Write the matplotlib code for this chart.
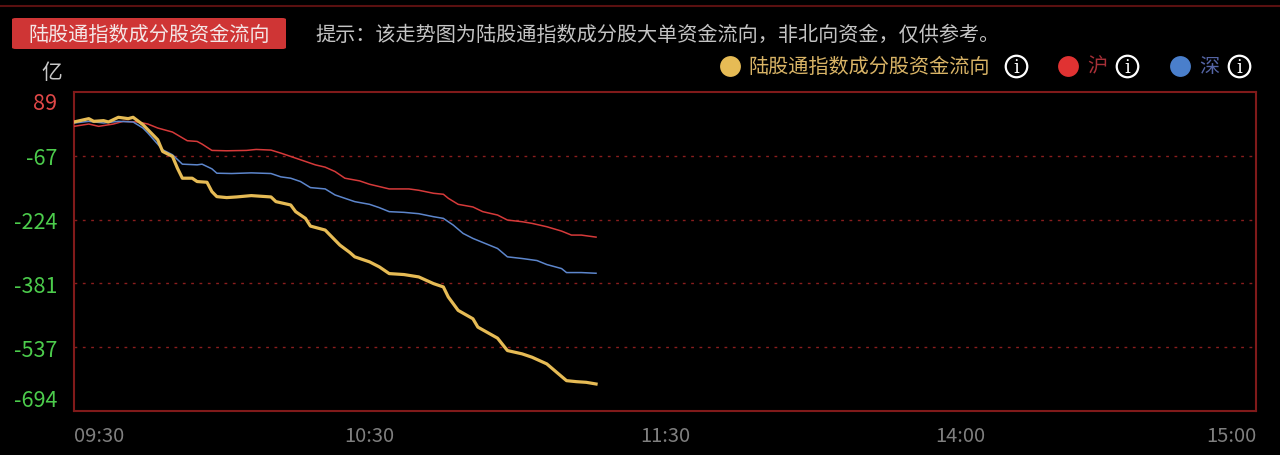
import matplotlib
matplotlib.use("Agg")
import matplotlib.pyplot as plt
from matplotlib.lines import Line2D
from matplotlib.patches import FancyBboxPatch

plt.rcParams['font.family'] = ['Noto Sans CJK SC', 'DejaVu Sans']

# minutes after 09:30 (trading minutes, 11:30 and 13:00 share 120)
total_min = [0, 3, 4, 6, 7, 9, 11, 12, 14, 15, 17, 18, 20, 21, 22, 24, 25, 27, 28, 29,
             31, 33, 36, 40, 41, 44, 45, 47, 48, 51, 53, 54, 56, 57, 60, 62, 64, 67, 70,
             73, 75, 76, 78, 81, 82, 86, 88, 91, 93, 96, 98, 100, 102, 104, 106]
total_val = [15.4, 23.6, 17.0, 18.7, 15.4, 26.9, 23.6, 26.9, 8.8, -3.5, -28.2, -56.9,
             -69.2, -98.0, -122.6, -122.6, -130.8, -132.5, -155.5, -167.8, -170.2, -168.6,
             -165.3, -168.6, -180.1, -188.3, -204.7, -221.2, -240.1, -249.9, -274.6, -286.9,
             -304.9, -315.6, -327.9, -340.3, -356.7, -359.1, -364.9, -381.3, -389.5, -414.2,
             -447.0, -467.6, -488.1, -515.2, -545.6, -553.8, -562.0, -578.4, -599.0, -619.5,
             -622.0, -623.6, -627.7]

sh_min = [0, 3, 5, 8, 10, 13, 15, 17, 20, 23, 25, 26, 28, 31, 35, 37, 40, 42, 44, 46,
          49, 51, 53, 55, 58, 60, 64, 68, 70, 73, 75, 76, 78, 81, 83, 86, 88, 91, 93,
          96, 99, 101, 103, 106]
sh_val = [4.7, 10.4, 4.7, 10.4, 17.0, 15.4, 10.4, 0.6, -9.3, -30.6, -32.3, -38.8, -54.4,
          -55.3, -54.4, -52.0, -53.6, -61.0, -69.2, -77.4, -89.8, -95.5, -106.2, -122.6,
          -129.2, -137.4, -148.9, -148.9, -152.2, -159.6, -162.0, -171.9, -186.7, -193.2,
          -204.7, -213.0, -225.3, -229.4, -233.5, -241.7, -252.4, -262.2, -262.2, -267.2]

sz_min = [0, 3, 6, 9, 12, 14, 15, 18, 20, 22, 25, 26, 28, 29, 32, 36, 40, 42, 44, 46,
          48, 51, 53, 55, 57, 60, 62, 64, 67, 70, 73, 75, 77, 79, 81, 83, 86, 88, 91,
          94, 96, 99, 100, 103, 106]
sz_val = [12.9, 17.0, 12.9, 17.0, 15.4, 0.6, -11.7, -52.8, -65.1, -88.1, -89.8, -88.1,
          -99.6, -110.3, -111.1, -109.5, -111.1, -119.3, -122.6, -130.8, -145.6, -148.9,
          -163.7, -171.9, -180.1, -186.7, -194.9, -204.7, -206.4, -209.7, -217.1, -221.2,
          -237.6, -258.1, -270.4, -280.3, -295.1, -315.6, -319.7, -324.7, -334.5, -344.4,
          -354.2, -354.2, -355.9]

y_ticks = [89, -67.6, -224.2, -380.8, -537.4, -694]
y_labels = ['89', '-67', '-224', '-381', '-537', '-694']
x_ticks = [0, 60, 120, 180, 240]
x_labels = ['09:30', '10:30', '11:30', '14:00', '15:00']

series_names = ['陆股通指数成分股资金流向', '沪', '深']
title = '陆股通指数成分股资金流向'
hint = '提示：该走势图为陆股通指数成分股大单资金流向，非北向资金，仅供参考。'

frame_col = '#801a1a'
yellow = '#e6bb55'
red = '#d63a3a'
blue = '#5d86cc'

fig = plt.figure(figsize=(12.8, 4.56), dpi=100, facecolor='black')
ax = fig.add_axes([74 / 1280, 44 / 456, (1256 - 74) / 1280, (412 - 93) / 456])
ax.set_facecolor('black')

ax.plot(sh_min, sh_val, color=red, lw=1.1, zorder=3)
ax.plot(sz_min, sz_val, color=blue, lw=1.1, zorder=3)
ax.plot(total_min, total_val, color=yellow, lw=2.3, zorder=4)

ax.set_xlim(0, 240)
ax.set_ylim(-694, 89)

for y in y_ticks[1:-1]:
    ax.axhline(y, color='#8a1e1e', lw=1.0, ls=(0, (2, 4)), zorder=1)

for s in ax.spines.values():
    s.set_color(frame_col)
    s.set_linewidth(1.5)

ax.set_yticks(y_ticks)
ax.set_yticklabels(y_labels)
ax.set_xticks(x_ticks)
ax.set_xticklabels(x_labels)
ax.tick_params(axis='both', length=0, labelsize=14.5)
ax.tick_params(axis='y', pad=12, labelsize=15.5)
ax.tick_params(axis='x', pad=10, colors='#7f7f7f')

ylabs = ax.get_yticklabels()
for i, lab in enumerate(ylabs):
    lab.set_color('#e04848' if i == 0 else '#4ccc4c')
ylabs[0].set_va('top')
ylabs[-1].set_va('bottom')
xlabs = ax.get_xticklabels()
xlabs[0].set_ha('left')
xlabs[-1].set_ha('right')

# header
fig.add_artist(Line2D([0, 1], [1 - 7 / 456, 1 - 7 / 456], color='#5a1010', lw=1.5,
                      transform=fig.transFigure))
box = FancyBboxPatch((12 / 1280, 1 - 50 / 456), 274 / 1280, 31 / 456,
                     boxstyle='round,pad=0,rounding_size=0.003', transform=fig.transFigure,
                     facecolor='#cf3535', edgecolor='none')
fig.add_artist(box)
fig.text(149 / 1280, 1 - 35 / 456, title, color='#f4e6e6', fontsize=14.5,
         ha='center', va='center')
fig.text(315 / 1280, 1 - 35 / 456, hint, color='#c4c4c4', fontsize=14.5,
         ha='left', va='center')
fig.text(52 / 1280, 1 - 73 / 456, '亿', color='#c8c8c8', fontsize=15,
         ha='center', va='center')

# legend
ly = 1 - 67 / 456
legend_items = [(730, 748, yellow, '#d9b466', 1016),
                (1068, 1087, '#e03232', '#a83038', 1127),
                (1180, 1199, '#4a7fcc', '#5565a5', 1239)]
for (dx, tx, dcol, tcol, ix), name in zip(legend_items, series_names):
    fig.add_artist(Line2D([dx / 1280], [ly], marker='o', markersize=15, color=dcol,
                          markeredgewidth=0, transform=fig.transFigure))
    fig.text(tx / 1280, ly, name, color=tcol, fontsize=14.5, ha='left', va='center')
    fig.add_artist(Line2D([ix / 1280], [ly], marker='o', markersize=15.5,
                          markerfacecolor='none', markeredgecolor='white',
                          markeredgewidth=1.6, transform=fig.transFigure))
    fig.text(ix / 1280, ly - 1 / 456, 'i', color='white', fontsize=13,
             family='DejaVu Serif', ha='center', va='center')

fig.savefig('out.png', dpi=100, facecolor='black')
